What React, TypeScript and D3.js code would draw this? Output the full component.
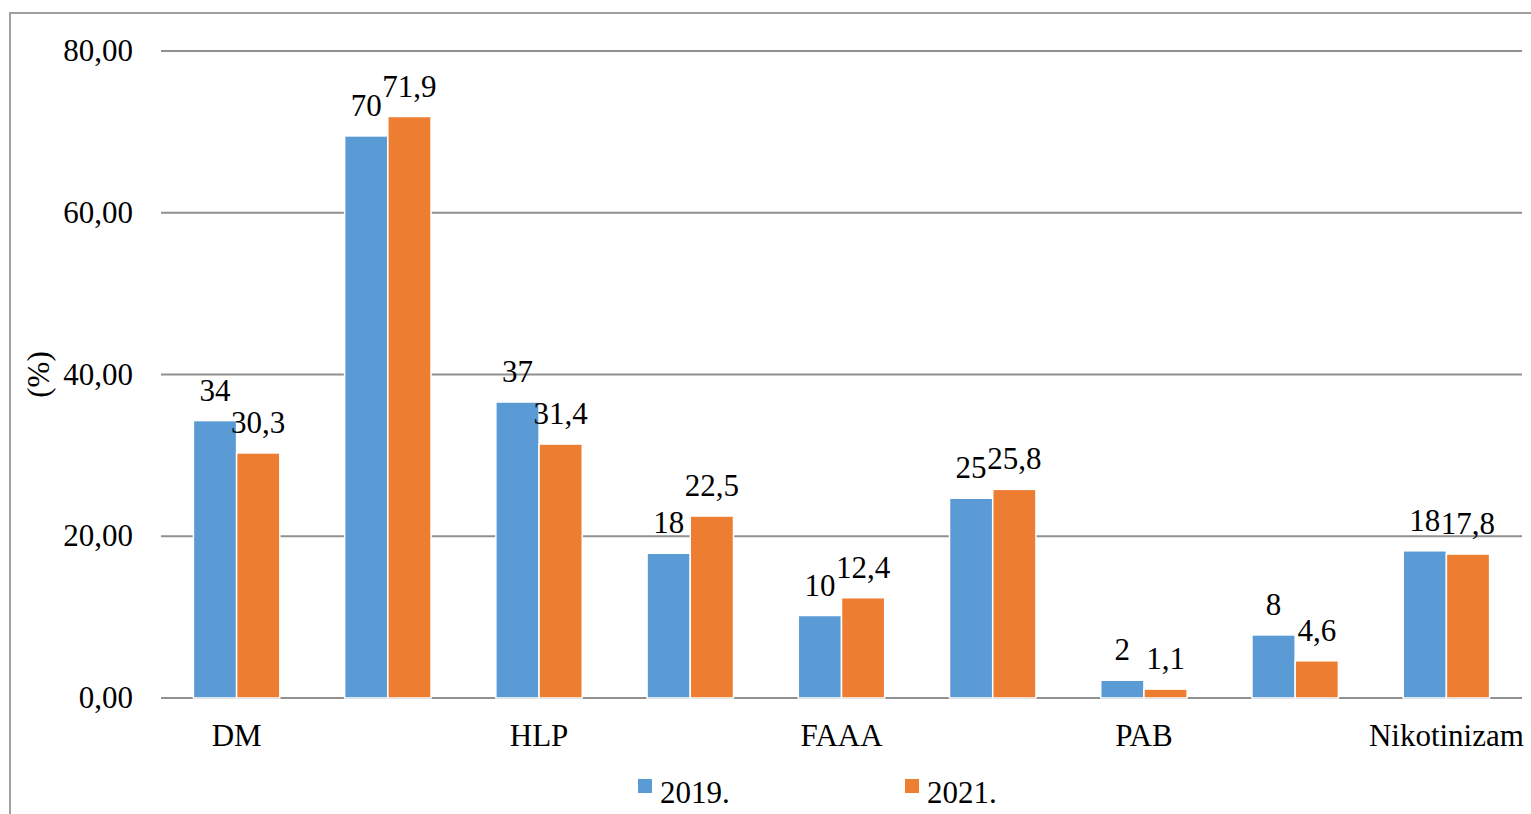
import React from 'react';
import * as d3 from 'd3';

// categories (only every other label is shown in the original)
const categories: string[] = ['DM', '', 'HLP', '', 'FAAA', '', 'PAB', '', 'Nikotinizam'];
const series: string[] = ['2019.', '2021.'];
const values2019: number[] = [34.3, 69.5, 36.6, 17.9, 10.2, 24.7, 2.2, 7.8, 18.2];
const values2021: number[] = [30.3, 71.9, 31.4, 22.5, 12.4, 25.8, 1.1, 4.6, 17.8];
const yTicks: number[] = [0, 20, 40, 60, 80];

const colors = ['#5B9BD5', '#ED7D31'];
const decimals = [0, 1];
const font = '"Liberation Serif", "Times New Roman", serif';
const fs = 31;

const W = 1531;
const H = 814;
const margin = { top: 51, right: 9, bottom: 116, left: 161 };

const fmt = (v: number, d: number) => v.toFixed(d).replace('.', ',');

const App: React.FC = () => {
  const idx = categories.map((_, i) => String(i));
  const p = 1.5 / 3.5;

  const x = d3
    .scaleBand<string>()
    .domain(idx)
    .range([margin.left, W - margin.right])
    .paddingInner(p)
    .paddingOuter(p / 2);

  const xSub = d3.scaleBand<number>().domain([0, 1]).range([0, x.bandwidth()]);

  const y = d3.scaleLinear().domain([0, 80]).range([H - margin.bottom, margin.top]);

  const data = [values2019, values2021];

  return (
    <svg
      width={W}
      height={H}
      style={{ position: 'absolute', left: 0, top: 0, background: '#fff' }}
      fontFamily={font}
    >
      {/* outer frame */}
      <rect x={10} y={13} width={W + 20} height={H + 20} fill="#fff" stroke="#a0a0a0" strokeWidth={2} />

      {/* gridlines + y ticks */}
      {yTicks.map(t => (
        <g key={t}>
          <line
            x1={margin.left}
            x2={W - margin.right}
            y1={y(t)}
            y2={y(t)}
            stroke="#909090"
            strokeWidth={2}
          />
          <text x={133} y={y(t) + 10} textAnchor="end" fontSize={fs} fill="#000">
            {fmt(t, 2)}
          </text>
        </g>
      ))}

      {/* axis title */}
      <text
        transform={`translate(38,${y(40)}) rotate(-90)`}
        textAnchor="middle"
        dominantBaseline="central"
        fontSize={fs}
      >
        (%)
      </text>

      {/* bars */}
      {data.map((vals, s) =>
        vals.map((v, i) => {
          const bx = (x(String(i)) as number) + (xSub(s) as number);
          return (
            <rect
              key={`${s}-${i}`}
              x={bx}
              y={y(v)}
              width={xSub.bandwidth()}
              height={y(0) - y(v)}
              fill={colors[s]}
              stroke="#fff"
              strokeWidth={1.5}
            />
          );
        })
      )}

      {/* data labels */}
      {data.map((vals, s) =>
        vals.map((v, i) => {
          const cx = (x(String(i)) as number) + (xSub(s) as number) + xSub.bandwidth() / 2;
          return (
            <text key={`l${s}-${i}`} x={cx} y={y(v) - 20} textAnchor="middle" fontSize={fs}>
              {fmt(v, decimals[s])}
            </text>
          );
        })
      )}

      {/* category labels */}
      {categories.map((c, i) => (
        <text
          key={`c${i}`}
          x={(x(String(i)) as number) + x.bandwidth() / 2}
          y={746}
          textAnchor="middle"
          fontSize={fs}
        >
          {c}
        </text>
      ))}

      {/* legend */}
      {series.map((name, s) => {
        const lx = s === 0 ? 638 : 905;
        return (
          <g key={name}>
            <rect x={lx} y={779} width={14} height={14} fill={colors[s]} />
            <text x={lx + 22} y={803} fontSize={fs}>
              {name}
            </text>
          </g>
        );
      })}
    </svg>
  );
};

export default App;
